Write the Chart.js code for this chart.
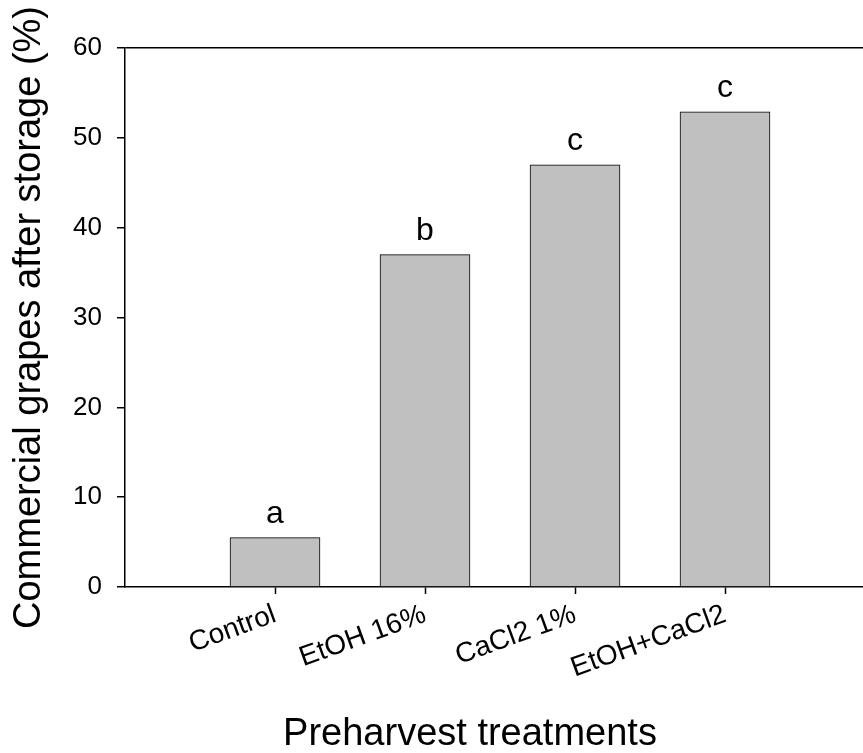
<!DOCTYPE html>
<html>
<head>
<meta charset="utf-8">
<script src="https://cdn.jsdelivr.net/npm/chart.js@4"></script>
<style>
  html, body { margin: 0; padding: 0; background: #fff; overflow: hidden; }
  #wrap { width: 863px; height: 753px; }
</style>
</head>
<body>
<div id="wrap"><canvas id="grapesChart"></canvas></div>
<script>
const treatments = ['Control', 'EtOH 16%', 'CaCl2 1%', 'EtOH+CaCl2'];
const commercialPct = [5.5, 37.0, 47.0, 52.9];
const groupLetters = ['a', 'b', 'c', 'c'];
const yTicks = [0, 10, 20, 30, 40, 50, 60];

const FONT = 'Arial, "Liberation Sans", sans-serif';

// significance letters above each bar, placed from the bar elements
const letterPlugin = {
    id: 'letters',
    afterDatasetsDraw(chart) {
        const ctx = chart.ctx;
        const meta = chart.getDatasetMeta(0);
        ctx.save();
        ctx.font = '32px ' + FONT;
        ctx.fillStyle = '#000';
        ctx.textAlign = 'center';
        ctx.textBaseline = 'alphabetic';
        meta.data.forEach((bar, i) => {
            ctx.fillText(groupLetters[i], bar.x, bar.y - 15);
        });
        ctx.restore();
    }
};

// x axis title sits a bit left of the visible axis centre (axis is cut on the right)
const xTitlePlugin = {
    id: 'xTitle',
    afterDraw(chart) {
        const ctx = chart.ctx;
        ctx.save();
        ctx.font = '38px ' + FONT;
        ctx.fillStyle = '#000';
        ctx.textAlign = 'center';
        ctx.textBaseline = 'alphabetic';
        ctx.fillText('Preharvest treatments', chart.chartArea.left + 345, chart.chartArea.bottom + 158);
        ctx.restore();
    }
};

new Chart(document.getElementById('grapesChart'), {
    type: 'bar',
    data: {
        datasets: [{
            data: treatments.map((t, i) => ({ x: i + 1, y: commercialPct[i] })),
            backgroundColor: '#c0c0c0',
            borderColor: '#000',
            borderWidth: 1,
            barThickness: 90
        }]
    },
    options: {
        responsive: true,
        maintainAspectRatio: false,
        animation: false,
        layout: { padding: { top: 48, left: 0, right: 0, bottom: 0 } },
        plugins: { legend: { display: false }, tooltip: { enabled: false } },
        scales: {
            x: {
                type: 'linear',
                offset: false,
                min: 0,
                max: 4.92,
                afterBuildTicks: scale => { scale.ticks = treatments.map((t, i) => ({ value: i + 1 })); },
                afterFit: scale => { scale.height = 166; },
                grid: { offset: false, drawOnChartArea: false, drawTicks: true, tickLength: 7, tickColor: '#000', tickWidth: 1.5 },
                border: { display: true, color: '#000', width: 1.5 },
                ticks: {
                    autoSkip: false,
                    minRotation: 20,
                    maxRotation: 20,
                    padding: 4,
                    color: '#000',
                    font: { family: FONT, size: 28 },
                    callback: v => treatments[v - 1] || ''
                }
            },
            y: {
                min: 0,
                max: 60,
                afterBuildTicks: scale => { scale.ticks = yTicks.map(v => ({ value: v })); },
                afterFit: scale => { scale.width = 125; },
                grid: {
                    drawOnChartArea: true,
                    color: c => (c.tick && c.tick.value === 60 ? '#000' : 'rgba(0,0,0,0)'),
                    lineWidth: 1.5,
                    drawTicks: true,
                    tickLength: 8,
                    tickColor: '#000',
                    tickWidth: 1.5
                },
                border: { display: true, color: '#000', width: 1.5 },
                ticks: {
                    color: '#000',
                    padding: 15,
                    font: { family: FONT, size: 26 }
                },
                title: {
                    display: true,
                    text: 'Commercial grapes after storage (%)',
                    color: '#000',
                    font: { family: FONT, size: 38 },
                    padding: { top: 7, bottom: 0 }
                }
            }
        }
    },
    plugins: [letterPlugin, xTitlePlugin]
});
</script>
</body>
</html>
